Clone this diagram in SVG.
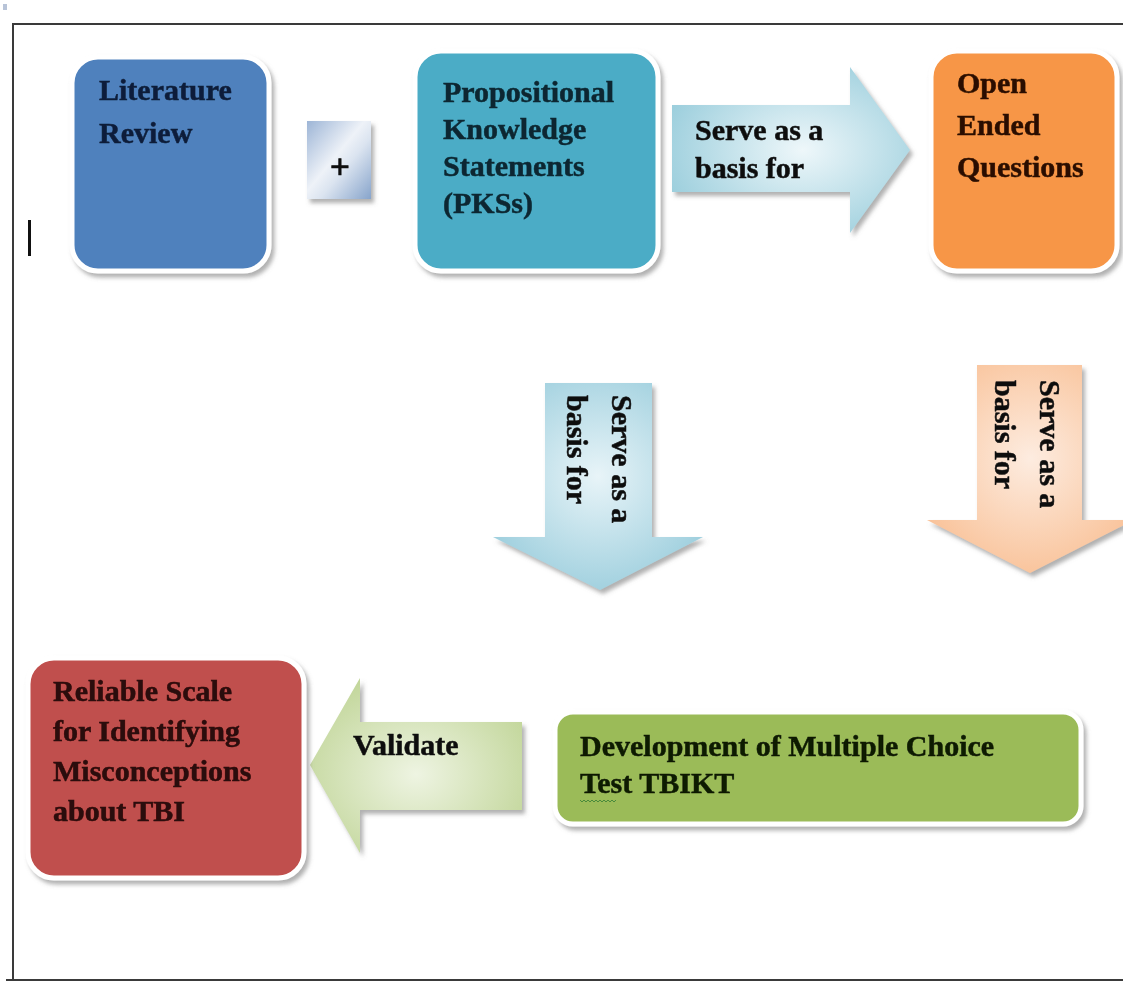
<svg xmlns="http://www.w3.org/2000/svg" width="1123" height="985" viewBox="0 0 1123 985">
<style>
.t{font-family:"Liberation Serif","Times New Roman",serif;font-weight:bold;font-size:30px;stroke-width:0.5}
.box{stroke:#ffffff;stroke-width:5}
.frame{stroke:#3a3a3a;stroke-width:2;fill:none}
</style>
<defs>
<filter id="sh" x="-20%" y="-20%" width="140%" height="140%">
<feDropShadow dx="3" dy="4" stdDeviation="2" flood-color="#6f6f6f" flood-opacity="0.55"/>
</filter>
<radialGradient id="gBlue" cx="0.55" cy="0.5" r="0.6">
<stop offset="0" stop-color="#eef7fa"/>
<stop offset="1" stop-color="#9dcfdd"/>
</radialGradient>
<radialGradient id="gBlueD" cx="0.5" cy="0.45" r="0.6">
<stop offset="0" stop-color="#e8f4f8"/>
<stop offset="1" stop-color="#9ccedd"/>
</radialGradient>
<radialGradient id="gOr" cx="0.5" cy="0.45" r="0.6">
<stop offset="0" stop-color="#fdece0"/>
<stop offset="1" stop-color="#f9c197"/>
</radialGradient>
<radialGradient id="gGr" cx="0.5" cy="0.55" r="0.6">
<stop offset="0" stop-color="#eef4e2"/>
<stop offset="1" stop-color="#c2d69a"/>
</radialGradient>
<linearGradient id="gPlus" x1="0" y1="0" x2="1" y2="1">
<stop offset="0" stop-color="#9db5d6"/>
<stop offset="0.45" stop-color="#eef2f8"/>
<stop offset="0.6" stop-color="#dbe4f0"/>
<stop offset="1" stop-color="#87a4cb"/>
</linearGradient>
</defs>
<rect width="1123" height="985" fill="#ffffff"/>
<g id="frame">
<line class="frame" x1="12" y1="24" x2="1123" y2="24"/>
<line class="frame" x1="13" y1="23" x2="13" y2="981"/>
<line class="frame" x1="6" y1="980" x2="1123" y2="980" stroke-width="3"/>
<rect x="3" y="4" width="4" height="6" fill="#b8c4d8"/>
<rect x="28" y="220" width="3" height="36" fill="#111111"/>
</g>
<g id="connectors">
<g id="arrow-right" filter="url(#sh)">
<polygon points="672,105 850,105 850,67 910,150 850,233 850,192 672,192" fill="url(#gBlue)"/>
<g fill="#111" stroke="#111">
<text class="t" x="695" y="140">Serve as a</text>
<text class="t" x="695" y="178">basis for</text>
</g>
</g>
<g id="arrow-down-mid" filter="url(#sh)">
<polygon points="545,383 652,383 652,537 703,537 600,590 493,537 545,537" fill="url(#gBlueD)"/>
<g transform="translate(612,395) rotate(90)" fill="#111" stroke="#111">
<text class="t" x="0" y="0">Serve as a</text>
<text class="t" x="0" y="45">basis for</text>
</g>
</g>
<g id="arrow-down-right" filter="url(#sh)">
<polygon points="977,365 1082,365 1082,520 1134,520 1030,573 927,520 977,520" fill="url(#gOr)"/>
<g transform="translate(1040,380) rotate(90)" fill="#111" stroke="#111">
<text class="t" x="0" y="0">Serve as a</text>
<text class="t" x="0" y="45">basis for</text>
</g>
</g>
<g id="arrow-validate" filter="url(#sh)">
<polygon points="522,722 360,722 360,678 310,765 360,853 360,810 522,810" fill="url(#gGr)"/>
<text class="t" x="353" y="755" fill="#111" stroke="#111">Validate</text>
</g>
</g>
<g id="lit" filter="url(#sh)">
<rect class="box" x="72" y="57" width="197" height="214" rx="26" fill="#4f81bd"/>
<g fill="#0f1f3a" stroke="#0f1f3a">
<text class="t" x="99" y="100">Literature</text>
<text class="t" x="99" y="143">Review</text>
</g>
</g>
<g id="plus" filter="url(#sh)">
<rect x="307" y="121" width="64" height="78" fill="url(#gPlus)"/>
<text x="340" y="178" text-anchor="middle" font-family="Liberation Sans, Arial, sans-serif" font-size="34" fill="#111" stroke="#111" stroke-width="0.6">+</text>
</g>
<g id="pks" filter="url(#sh)">
<rect class="box" x="415" y="51" width="243" height="220" rx="26" fill="#4bacc6"/>
<g fill="#0b2630" stroke="#0b2630">
<text class="t" x="443" y="102">Propositional</text>
<text class="t" x="443" y="139">Knowledge</text>
<text class="t" x="443" y="176">Statements</text>
<text class="t" x="443" y="213">(PKSs)</text>
</g>
</g>
<g id="open" filter="url(#sh)">
<rect class="box" x="931" y="51" width="186" height="220" rx="26" fill="#f79646"/>
<g fill="#2a0f00" stroke="#2a0f00">
<text class="t" x="957" y="93">Open</text>
<text class="t" x="957" y="135">Ended</text>
<text class="t" x="957" y="177">Questions</text>
</g>
</g>
<g id="reliable" filter="url(#sh)">
<rect class="box" x="28" y="658" width="276" height="220" rx="26" fill="#c0504d"/>
<g fill="#2a0808" stroke="#2a0808">
<text class="t" x="53" y="701">Reliable Scale</text>
<text class="t" x="53" y="741">for Identifying</text>
<text class="t" x="53" y="781">Misconceptions</text>
<text class="t" x="53" y="821">about TBI</text>
</g>
</g>
<g id="mcq" filter="url(#sh)">
<rect class="box" x="555" y="712" width="526" height="112" rx="18" fill="#9bbb59"/>
<g fill="#0f1a05" stroke="#0f1a05">
<text class="t" x="580" y="756">Development of Multiple Choice</text>
<text class="t" x="580" y="793">Test TBIKT</text>
</g>
<path d="M580,800 l2,2 l2,-2 l2,2 l2,-2 l2,2 l2,-2 l2,2 l2,-2 l2,2 l2,-2 l2,2 l2,-2 l2,2 l2,-2 l2,2 l2,-2 l2,2 l2,-2" fill="none" stroke="#4a8a3a" stroke-width="1"/>
</g>
</svg>
